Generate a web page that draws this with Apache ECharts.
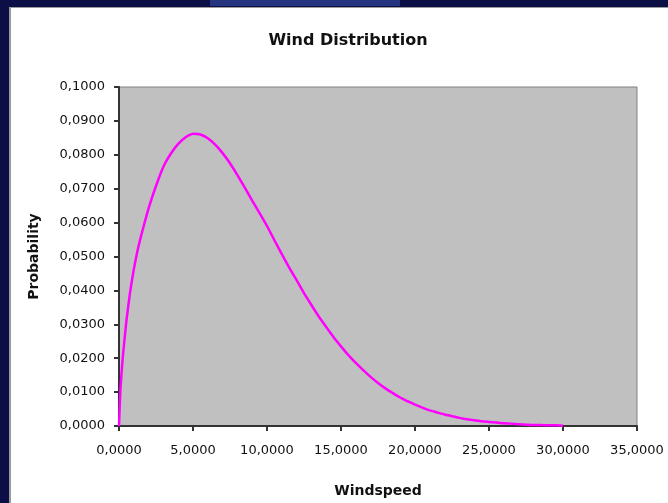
<!DOCTYPE html>
<html>
<head>
<meta charset="utf-8">
<script src="https://cdn.jsdelivr.net/npm/echarts@6/dist/echarts.min.js"></script>
<style>
html,body{margin:0;padding:0;background:#fff;}
#main{width:668px;height:503px;}
</style>
</head>
<body>
<div id="main"></div>
<script>
var titleText = 'Wind Distribution';
var xAxisName = 'Windspeed';
var yAxisName = 'Probability';
var windSpeeds = [0, 0.1, 0.25, 0.5, 0.75, 1, 1.25, 1.5, 2, 2.5, 3, 3.5, 4, 4.5, 5, 5.5, 6, 6.5, 7, 7.5, 8, 8.5, 9, 9.5, 10, 10.5, 11, 11.5, 12, 12.5, 13, 13.5, 14, 14.5, 15, 15.5, 16, 16.5, 17, 17.5, 18, 18.5, 19, 19.5, 20, 20.5, 21, 21.5, 22, 22.5, 23, 23.5, 24, 24.5, 25, 25.5, 26, 26.5, 27, 27.5, 28, 28.5, 29, 29.5, 30];
var probabilities = [0, 0.011, 0.020, 0.031, 0.0395, 0.0462, 0.0517, 0.0562, 0.0642, 0.0708, 0.0765, 0.0803, 0.0832, 0.0852, 0.0862, 0.0860, 0.0849, 0.0830, 0.0805, 0.0775, 0.0740, 0.0703, 0.0665, 0.0628, 0.0590, 0.0548, 0.0507, 0.0467, 0.0430, 0.0392, 0.0357, 0.0323, 0.0292, 0.0262, 0.0235, 0.0209, 0.0186, 0.0165, 0.0145, 0.0127, 0.0111, 0.0097, 0.0084, 0.0073, 0.0063, 0.0054, 0.0046, 0.0040, 0.0034, 0.0029, 0.0024, 0.0020, 0.0017, 0.0014, 0.0012, 0.0010, 0.0008, 0.0007, 0.0005, 0.0004, 0.0003, 0.0003, 0.0002, 0.0002, 0.0001];
var xTickLabels = ['0,0000', '5,0000', '10,0000', '15,0000', '20,0000', '25,0000', '30,0000', '35,0000'];
var yTickLabels = ['0,0000', '0,0100', '0,0200', '0,0300', '0,0400', '0,0500', '0,0600', '0,0700', '0,0800', '0,0900', '0,1000'];

var seriesData = windSpeeds.map(function (s, i) { return [s, probabilities[i]]; });

var chart = echarts.init(document.getElementById('main'), null, {renderer: 'canvas'});
var labelFont = {color: '#111', fontFamily: 'DejaVu Sans', fontSize: 13};
chart.setOption({
  backgroundColor: '#ffffff',
  animation: false,
  title: {
    text: titleText,
    left: 343, textAlign: 'center', top: 28,
    textStyle: {fontFamily: 'DejaVu Sans', fontWeight: 'bold', fontSize: 16, color: '#111'}
  },
  graphic: [
    {type: 'rect', left: 0, top: 0, shape: {width: 668, height: 7}, style: {fill: '#0b0f45'}},
    {type: 'rect', left: 210, top: 0, shape: {width: 190, height: 6}, style: {fill: '#25347f'}},
    {type: 'rect', left: 0, top: 0, shape: {width: 9, height: 503}, style: {fill: '#0b0f45'}},
    {type: 'rect', left: 9, top: 7, shape: {width: 2, height: 496}, style: {fill: '#9a9a9a'}},
    {type: 'rect', left: 9, top: 7, shape: {width: 659, height: 1}, style: {fill: '#9a9a9a'}}
  ],
  grid: {
    left: 119, right: 31, top: 87, bottom: 76,
    show: true, backgroundColor: '#c0c0c0', borderColor: '#808080', borderWidth: 1
  },
  xAxis: {
    type: 'value', min: 0, max: 35, interval: 5,
    name: xAxisName, nameLocation: 'middle', nameGap: 58,
    nameTextStyle: {fontFamily: 'DejaVu Sans', fontWeight: 'bold', fontSize: 14, color: '#111'},
    axisLine: {show: true, lineStyle: {color: '#333', width: 2}},
    axisTick: {show: true, length: 5, lineStyle: {color: '#333', width: 2}},
    axisLabel: Object.assign({margin: 18, formatter: function (v) { return xTickLabels[Math.round(v / 5)]; }}, labelFont),
    splitLine: {show: false}
  },
  yAxis: {
    type: 'value', min: 0, max: 0.1, interval: 0.01,
    name: yAxisName, nameLocation: 'middle', nameGap: 78, nameRotate: 90,
    nameTextStyle: {fontFamily: 'DejaVu Sans', fontWeight: 'bold', fontSize: 14, color: '#111'},
    axisLine: {show: true, lineStyle: {color: '#333', width: 2}},
    axisTick: {show: true, length: 5, lineStyle: {color: '#333', width: 2}},
    axisLabel: Object.assign({margin: 14, formatter: function (v) { return yTickLabels[Math.round(v * 100)]; }}, labelFont),
    splitLine: {show: false}
  },
  series: [{
    type: 'line',
    data: seriesData,
    smooth: 0.15,
    showSymbol: false,
    lineStyle: {color: '#ff00ff', width: 2.5}
  }]
});
</script>
</body>
</html>
